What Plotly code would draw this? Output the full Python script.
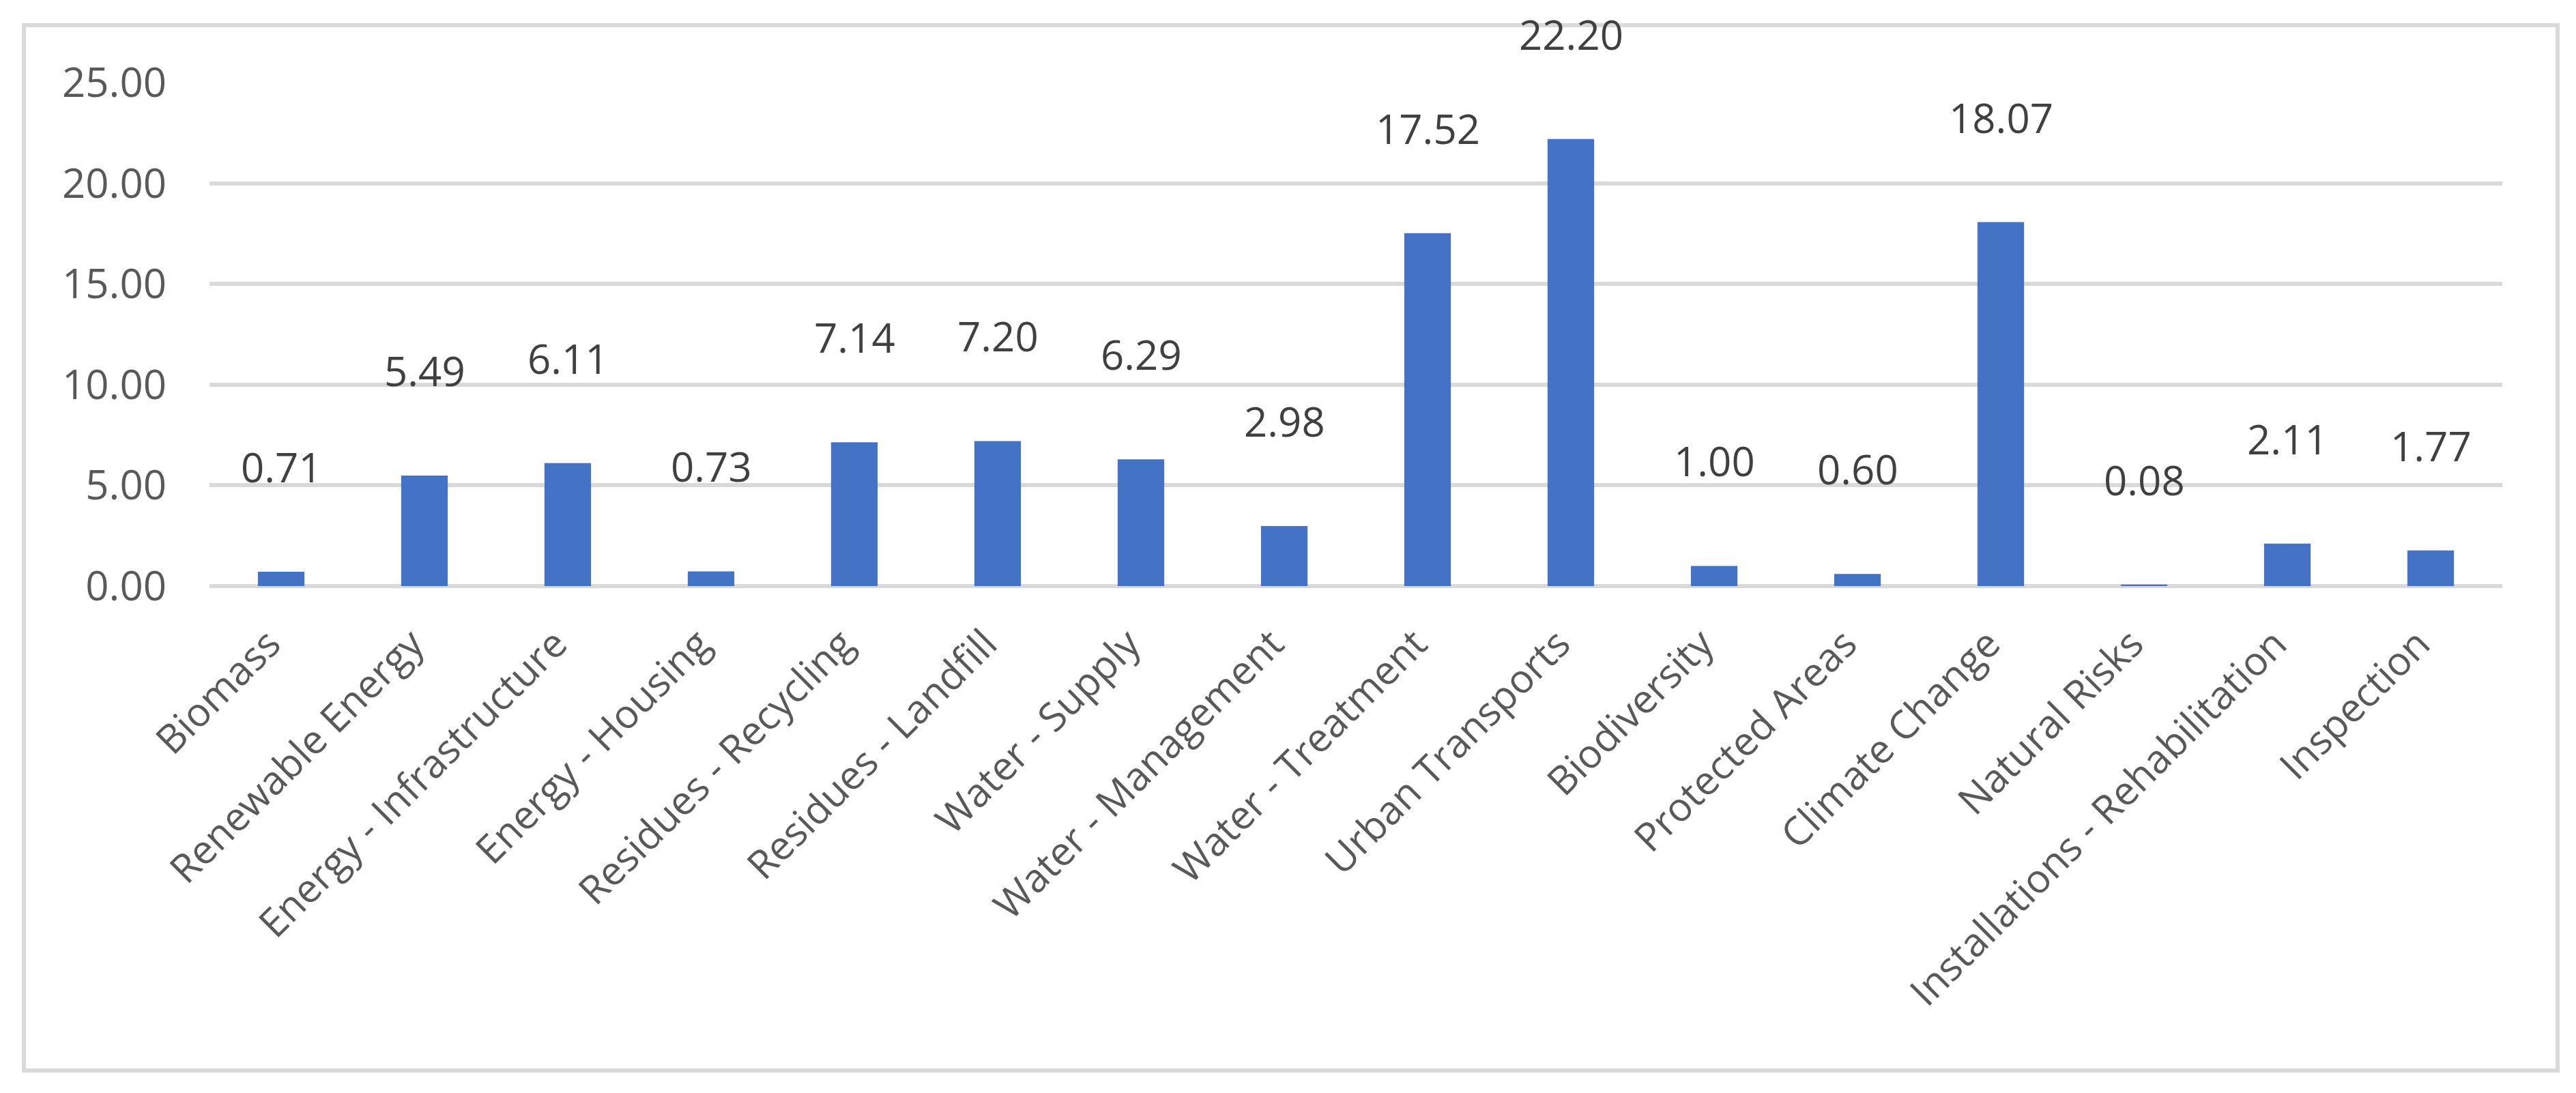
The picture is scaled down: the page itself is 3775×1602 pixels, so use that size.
import plotly.graph_objects as go

categories = ["Biomass", "Renewable Energy", "Energy - Infrastructure", "Energy - Housing",
              "Residues - Recycling", "Residues - Landfill", "Water - Supply", "Water - Management",
              "Water - Treatment", "Urban Transports", "Biodiversity", "Protected Areas",
              "Climate Change", "Natural Risks", "Installations - Rehabilitation", "Inspection"]
values = [0.71, 5.49, 6.11, 0.73, 7.14, 7.20, 6.29, 2.98, 17.52, 22.20, 1.00, 0.60, 18.07, 0.08, 2.11, 1.77]
y_ticks = [0, 5, 10, 15, 20, 25]

W, H = 3775, 1602
L, R, T, B = 299, 3659, 113, 851
FONT = "Open Sans"

fig = go.Figure()
fig.add_trace(go.Bar(x=categories, y=values, marker=dict(color="#4472C4", line=dict(width=0)),
                     hoverinfo="x+y"))

for c, v in zip(categories, values):
    fig.add_annotation(x=c, y=v, text=f"{v:.2f}", showarrow=False, xref="x", yref="y",
                       yanchor="middle", yshift=154,
                       font=dict(family=FONT, size=60, color="#404040"))

pw, ph = R - L, B - T
def px(x):
    return (x - L) / pw
def py(y):
    return (B - y) / ph

fig.add_shape(type="rect", xref="paper", yref="paper",
              x0=px(27), x1=px(3740), y0=py(1561), y1=py(29),
              line=dict(color="#D9D9D9", width=6), fillcolor="rgba(0,0,0,0)", layer="below")

fig.update_layout(
    width=W, height=H,
    margin=dict(l=L, r=W - R, t=T, b=H - B, pad=0),
    paper_bgcolor="white", plot_bgcolor="white",
    bargap=0.675, showlegend=False,
    font=dict(family=FONT, size=60, color="#595959"),
)
fig.update_xaxes(showgrid=False, showline=False, zeroline=False, ticks="", tickangle=-45,
                 tickfont=dict(family=FONT, size=58, color="#595959"),
                 ticklabelstandoff=38, ticklabelshift=-18)
fig.update_yaxes(range=[0, 25], tickvals=y_ticks, tickformat=".2f", showgrid=True,
                 gridcolor="#D9D9D9", gridwidth=6, zeroline=True, zerolinecolor="#D9D9D9",
                 zerolinewidth=6, showline=False, ticks="", ticklabelstandoff=62,
                 tickfont=dict(family=FONT, size=60, color="#595959"))

fig.write_html("out.html")
